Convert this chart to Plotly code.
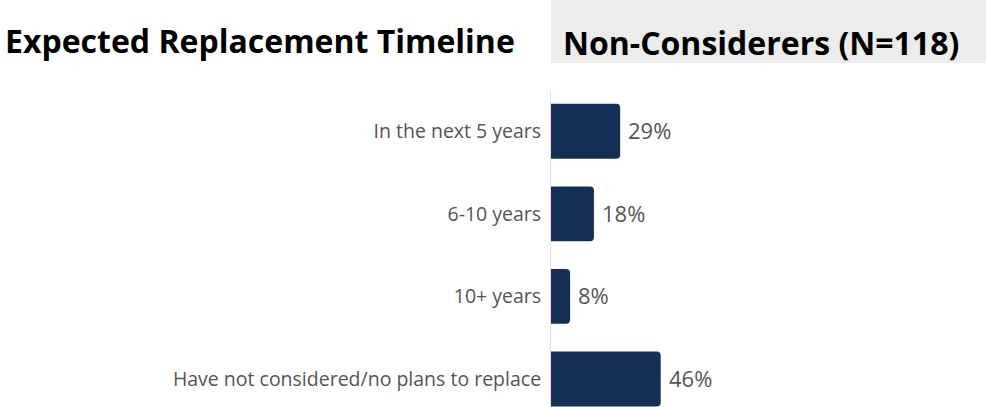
import plotly.graph_objects as go

categories = ["In the next 5 years", "6-10 years", "10+ years", "Have not considered/no plans to replace"]
values = [29, 18, 8, 46]
value_labels = [f"{v}%" for v in values]

title_left = "Expected Replacement Timeline"
title_right = "Non-Considerers (N=118)"

BAR_COLOR = "#162f55"
TEXT_COLOR = "#555555"
FONT = "Open Sans"

W, H = 986, 407
L, T = 551, 90
plot_h = H - T

fig = go.Figure(
    go.Bar(
        x=values,
        y=categories,
        orientation="h",
        marker=dict(color=BAR_COLOR, cornerradius=4, line=dict(width=0)),
        width=0.665,
        hoverinfo="skip",
    )
)

# value labels just past the end of each bar
for cat, v, lab in zip(categories, values, value_labels):
    fig.add_annotation(
        x=v, y=cat, text=lab, xanchor="left", yanchor="middle",
        xshift=6, yshift=1, showarrow=False,
        font=dict(family=FONT, size=22, color=TEXT_COLOR),
    )

# grey header band behind the segment title
fig.add_shape(
    type="rect", xref="paper", yref="paper",
    x0=0, x1=1, y0=(H - 63) / plot_h, y1=H / plot_h,
    fillcolor="#ececec", line=dict(width=0), layer="below",
)

fig.add_annotation(
    text=f"<b>{title_left}</b>", xref="paper", yref="paper",
    x=(3 - L) / (W - L), y=(H - 40) / plot_h, xanchor="left", yanchor="middle",
    showarrow=False, font=dict(family=FONT, size=32, color="#000000"),
)
fig.add_annotation(
    text=f"<b>{title_right}</b>", xref="paper", yref="paper",
    x=(561 - L) / (W - L), y=(H - 42) / plot_h, xanchor="left", yanchor="middle",
    showarrow=False, font=dict(family=FONT, size=32, color="#000000"),
)

fig.update_layout(
    width=W, height=H,
    margin=dict(l=L, r=0, t=T, b=0, pad=0),
    paper_bgcolor="white", plot_bgcolor="white",
    showlegend=False,
    font=dict(family=FONT, color=TEXT_COLOR),
    xaxis=dict(
        range=[0, (W - L) / 2.385], showgrid=False, zeroline=False,
        showticklabels=False, showline=False, fixedrange=True,
    ),
    yaxis=dict(
        categoryorder="array", categoryarray=categories,
        range=[3.34, -0.5], showgrid=False, zeroline=False,
        showline=True, linecolor="#e2e2e2", linewidth=1,
        ticks="", ticklabelstandoff=5,
        tickfont=dict(family=FONT, size=19.5, color=TEXT_COLOR),
        fixedrange=True,
    ),
)

fig.write_html("out.html")
